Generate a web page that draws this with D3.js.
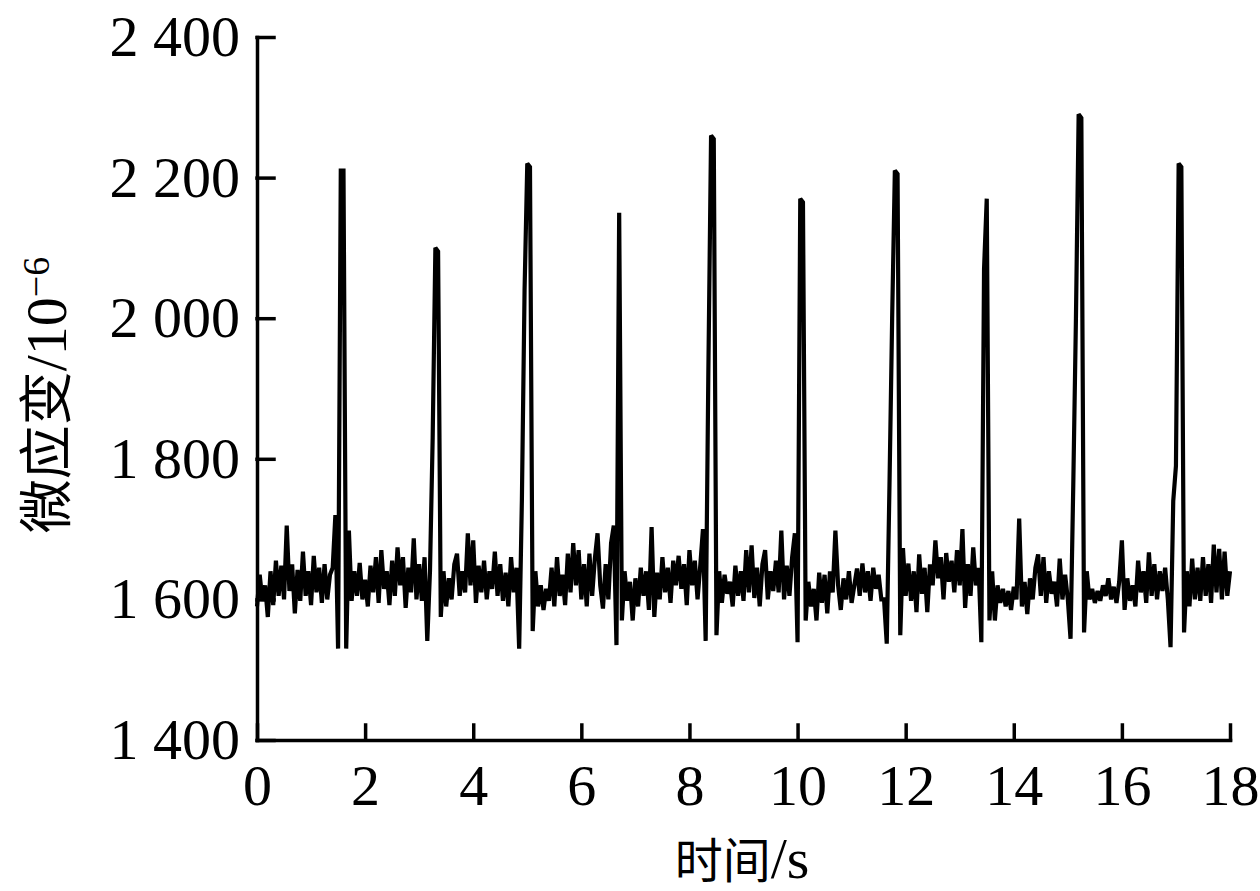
<!DOCTYPE html>
<html>
<head>
<meta charset="utf-8">
<script src="https://cdn.jsdelivr.net/npm/d3@7"></script>
<style>
  body { margin: 0; background: #fff; }
  svg { display: block; }
  .tick text { font-family: "Liberation Serif", "Times New Roman", serif; font-size: 58px; fill: #000; }
</style>
</head>
<body>
<svg id="chart" width="1260" height="891"></svg>
<script>
// sampling step of the record, seconds
var sampleStep = 0.05;

// micro strain readings, one row per second (20 samples each)
var strain = [
  1590,1635,1598,1620,1575,1640,1592,1655,1605,1648,1600,1705,1612,1650,1580,1642,1598,1668,1605,1640,
  1592,1662,1610,1645,1595,1650,1600,1635,1645,1720,1530,2210,2210,1530,1698,1598,1640,1605,1652,1600,
  1628,1590,1648,1610,1660,1595,1670,1615,1640,1592,1655,1605,1674,1620,1660,1588,1645,1610,1687,1600,
  1650,1598,1660,1541,1640,1830,2100,2095,1575,1640,1590,1630,1600,1650,1665,1605,1640,1610,1694,1620,
  1684,1595,1648,1610,1655,1600,1640,1615,1668,1605,1650,1598,1638,1590,1660,1610,1645,1530,1740,2040,
  2220,2215,1555,1640,1590,1620,1585,1615,1598,1645,1590,1660,1605,1635,1592,1665,1610,1680,1620,1670,
  1600,1650,1590,1665,1605,1658,1694,1620,1587,1650,1600,1680,1705,1535,2150,1570,1640,1598,1625,1570,
  1630,1590,1645,1605,1640,1585,1703,1575,1638,1600,1660,1610,1645,1595,1655,1620,1662,1615,1650,1592,
  1670,1620,1655,1600,1648,1700,1541,1925,2260,2255,1549,1640,1595,1635,1608,1625,1590,1648,1605,1640,
  1598,1670,1610,1677,1602,1645,1590,1650,1670,1600,1640,1612,1655,1610,1698,1600,1648,1605,1660,1694,
  1539,2170,2165,1570,1625,1590,1615,1570,1638,1595,1635,1580,1640,1610,1698,1620,1585,1630,1600,1640,
  1595,1620,1644,1605,1651,1610,1640,1598,1645,1615,1635,1600,1600,1537,1760,2000,2210,2205,1549,1673,
  1605,1651,1598,1640,1582,1664,1608,1645,1582,1650,1620,1684,1630,1660,1600,1666,1625,1655,1610,1670,
  1620,1700,1588,1650,1605,1674,1620,1645,1539,2070,2170,1570,1640,1570,1620,1595,1615,1590,1612,1585,
  1618,1600,1715,1590,1625,1579,1630,1600,1645,1664,1605,1660,1595,1640,1608,1625,1590,1658,1600,1635,
  1600,1544,1760,2000,2290,2285,1553,1640,1600,1615,1595,1612,1598,1620,1605,1630,1600,1618,1595,1625,
  1684,1585,1630,1598,1620,1590,1655,1610,1640,1595,1667,1605,1650,1600,1640,1612,1645,1600,1532,1740,
  1790,2220,2215,1553,1640,1590,1658,1600,1645,1598,1660,1605,1650,1595,1678,1610,1672,1600,1668,1605,
  1640
];

var xTicks = [0, 2, 4, 6, 8, 10, 12, 14, 16, 18];
var yTicks = [1400, 1600, 1800, 2000, 2200, 2400];

var svg = d3.select("#chart");

var x = d3.scaleLinear().domain([0, 18]).range([257, 1230]);
var y = d3.scaleLinear().domain([1400, 2400]).range([740, 37]);

var spaced = d3.formatLocale({decimal: ".", thousands: " ", grouping: [3], currency: ["", ""]}).format(",");

// signal
var line = d3.line()
  .x(function(d, i) { return x(i * sampleStep); })
  .y(function(d) { return y(d); });

svg.append("path")
  .datum(strain)
  .attr("d", line)
  .attr("fill", "none")
  .attr("stroke", "#000")
  .attr("stroke-width", 4.2)
  .attr("stroke-linejoin", "miter")
  .attr("stroke-miterlimit", 1.5);

// axes, ticks pointing inward
svg.append("g")
  .attr("transform", "translate(257,0)")
  .call(d3.axisLeft(y).tickValues(yTicks).tickFormat(spaced).tickSizeInner(-17).tickSizeOuter(0).tickPadding(17));

svg.append("g")
  .attr("transform", "translate(0,740)")
  .call(d3.axisBottom(x).tickValues(xTicks).tickFormat(d3.format("d")).tickSizeInner(-15).tickSizeOuter(0).tickPadding(24));

svg.selectAll(".domain, .tick line")
  .attr("stroke", "#000")
  .attr("stroke-width", 3.5)
  .attr("stroke-linecap", "square");

// axis titles
svg.append("text")
  .attr("x", 742)
  .attr("y", 878)
  .attr("text-anchor", "middle")
  .style("font-family", "'Noto Sans CJK SC', sans-serif")
  .style("font-size", "48px")
  .text("时间")
  .append("tspan")
  .style("font-family", "'Liberation Serif', serif")
  .style("font-size", "58px")
  .text("/s");

var yt = svg.append("text")
  .attr("transform", "translate(66,395) rotate(-90)")
  .attr("text-anchor", "middle")
  .style("font-family", "'Noto Sans CJK SC', sans-serif")
  .style("font-size", "54px")
  .text("微应变");
yt.append("tspan")
  .style("font-family", "'Liberation Serif', serif")
  .style("font-size", "58px")
  .text("/10");
yt.append("tspan")
  .attr("dy", "-0.45em")
  .style("font-family", "'Liberation Serif', serif")
  .style("font-size", "38px")
  .text("\u22126");
</script>
</body>
</html>
